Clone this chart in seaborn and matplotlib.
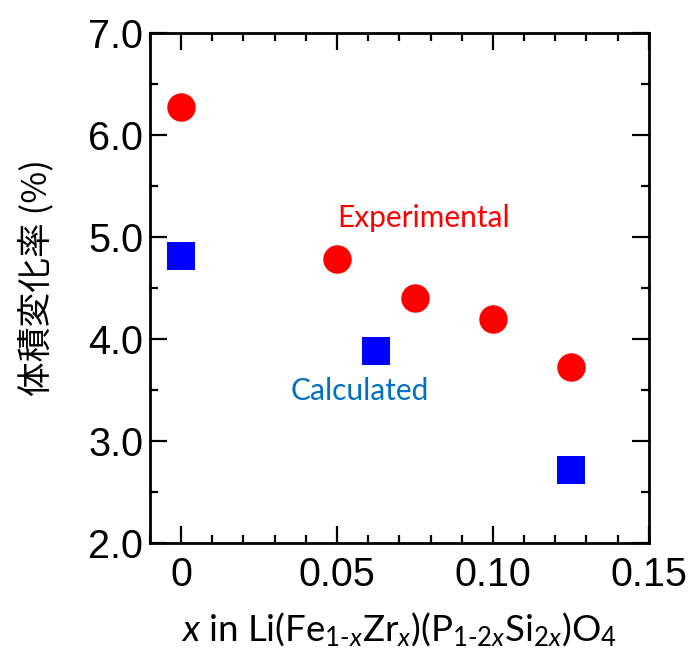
import matplotlib
matplotlib.use("Agg")
import matplotlib.pyplot as plt
import seaborn as sns
import pandas as pd
from matplotlib.ticker import MultipleLocator, FixedLocator, FixedFormatter

sns.set_theme(style="white")
plt.rcParams['font.family'] = ['Liberation Sans', 'DejaVu Sans']
plt.rcParams['mathtext.fontset'] = 'custom'
plt.rcParams['mathtext.rm'] = 'Lato'
plt.rcParams['mathtext.it'] = 'Lato:italic'

exp_x = [0.0, 0.05, 0.075, 0.10, 0.125]
exp_y = [6.28, 4.79, 4.40, 4.20, 3.73]
calc_x = [0.0, 0.0625, 0.125]
calc_y = [4.81, 3.88, 2.72]

xticks = [0, 0.05, 0.10, 0.15]
xtick_labels = ["0", "0.05", "0.10", "0.15"]
yticks = [2.0, 3.0, 4.0, 5.0, 6.0, 7.0]
ytick_labels = ["2.0", "3.0", "4.0", "5.0", "6.0", "7.0"]

df_exp = pd.DataFrame({"x": exp_x, "y": exp_y})
df_calc = pd.DataFrame({"x": calc_x, "y": calc_y})

fig = plt.figure(figsize=(6.91, 6.57), dpi=100)
ax = fig.add_axes([0.217, 0.1735, 0.722, 0.776])

sns.scatterplot(data=df_exp, x="x", y="y", ax=ax, color="#FF0000", marker="o", s=420, linewidth=0, zorder=3)
sns.scatterplot(data=df_calc, x="x", y="y", ax=ax, color="#0000FF", marker="s", s=400, linewidth=0, zorder=3)

ax.set_xlim(-0.01, 0.15)
ax.set_ylim(2.0, 7.0)
ax.xaxis.set_major_locator(FixedLocator(xticks))
ax.xaxis.set_major_formatter(FixedFormatter(xtick_labels))
ax.xaxis.set_minor_locator(MultipleLocator(0.01))
ax.yaxis.set_major_locator(FixedLocator(yticks))
ax.yaxis.set_major_formatter(FixedFormatter(ytick_labels))
ax.yaxis.set_minor_locator(MultipleLocator(0.5))

ax.tick_params(which="both", direction="in", top=True, right=True, bottom=True, left=True,
               color="black", width=1.6)
ax.tick_params(which="major", length=12, labelsize=28.5, labelcolor="black")
ax.tick_params(axis="x", which="major", pad=9)
ax.tick_params(axis="y", which="major", pad=5)
ax.tick_params(which="minor", length=6)

for sp in ax.spines.values():
    sp.set_visible(True)
    sp.set_color("black")
    sp.set_linewidth(2)

ax.set_xlabel(r"$x$ in Li(Fe$_{1\text{-}x}$Zr$_{x}$)(P$_{1\text{-}2x}$Si$_{2x}$)O$_{4}$",
              fontsize=26.4, family=["Lato", "DejaVu Sans"], color="black", labelpad=12)
ax.set_ylabel("体積変化率 (%)", fontsize=25, family=["Noto Sans CJK JP", "DejaVu Sans"],
              color="black", labelpad=24)
ax.yaxis.label.set_y(0.52)

ax.text(0.0779, 5.19, "Experimental", color="#FF0000", fontsize=21.5,
        family=["Lato", "DejaVu Sans"], ha="center", va="center")
ax.text(0.0574, 3.49, "Calculated", color="#0070C0", fontsize=21.5,
        family=["Lato", "DejaVu Sans"], ha="center", va="center")

fig.savefig("out.png", dpi=100)
